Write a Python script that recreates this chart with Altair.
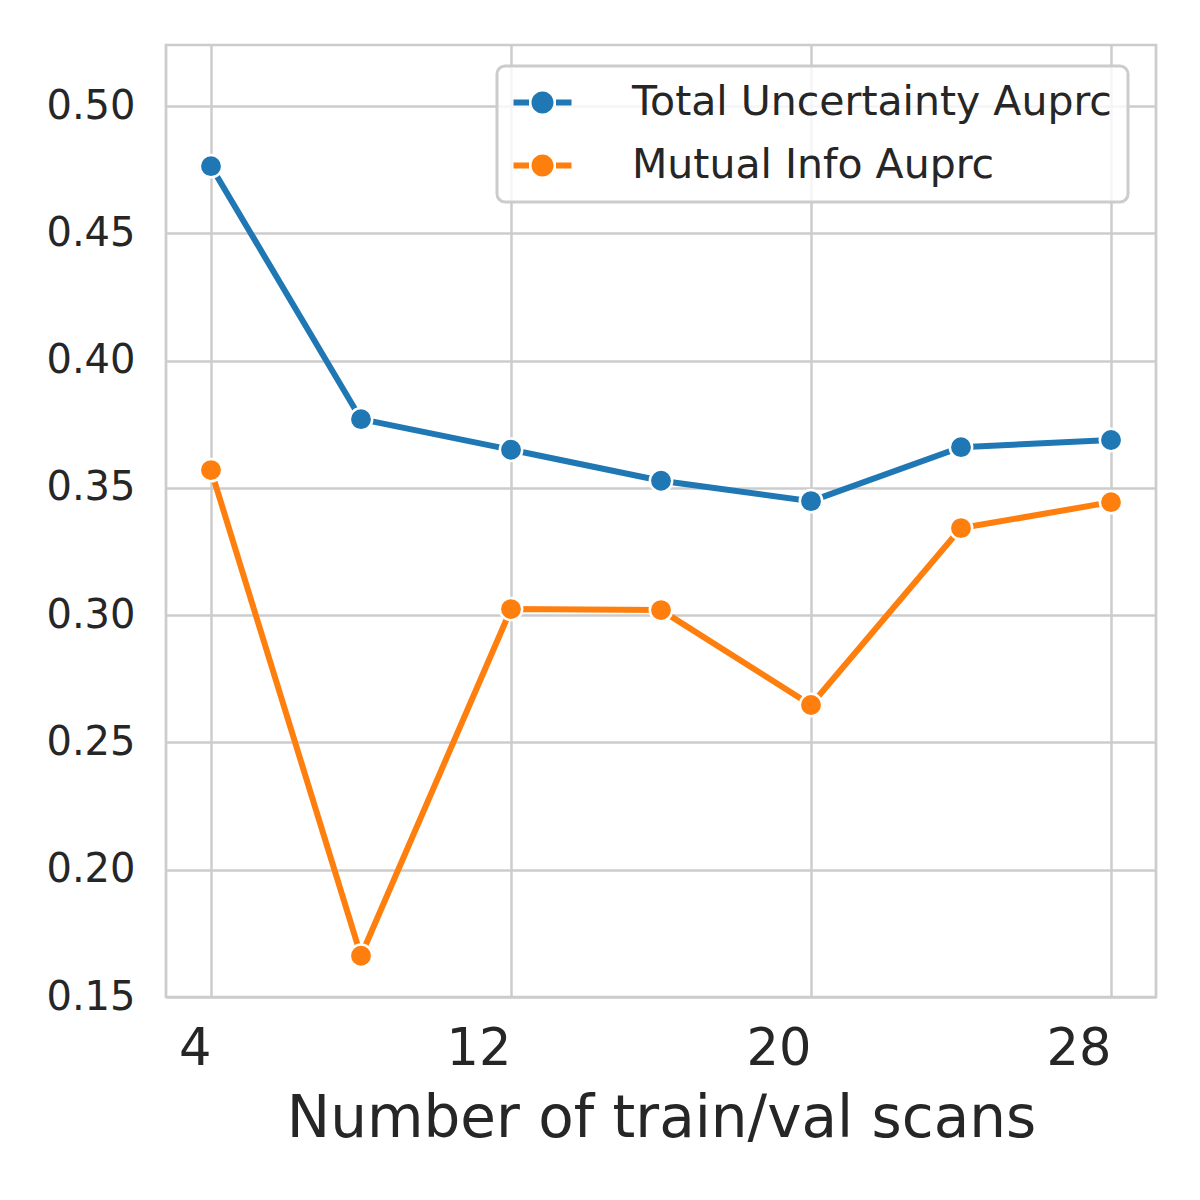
import altair as alt
import pandas as pd

# ---- data ----
x_scans = [4, 8, 12, 16, 20, 24, 28]
total_uncertainty = [0.4764, 0.3770, 0.3650, 0.3528, 0.3448, 0.3660, 0.3688]
mutual_info = [0.3570, 0.1662, 0.3024, 0.3020, 0.2647, 0.3342, 0.3444]
series_names = ["Total Uncertainty Auprc", "Mutual Info Auprc"]
series_colors = ["#1f77b4", "#ff7f0e"]
x_ticks = [4, 12, 20, 28]
y_ticks = [0.15, 0.20, 0.25, 0.30, 0.35, 0.40, 0.45, 0.50]

rows = []
for name, vals in zip(series_names, [total_uncertainty, mutual_info]):
    for xv, yv in zip(x_scans, vals):
        rows.append({"scans": xv, "value": yv, "series": name})
df = pd.DataFrame(rows)

FONT = "DejaVu Sans"
TXT = "#262626"
GRID = "#cccccc"

x_enc = alt.X(
    "scans:Q",
    scale=alt.Scale(domain=[2.8, 29.2], nice=False, zero=False),
    axis=alt.Axis(values=x_ticks, title="Number of train/val scans", labelFontSize=51,
                  labelPadding=27, labelAlign="right", titleFontSize=58, titlePadding=16,
                  format="d"),
)
y_enc = alt.Y(
    "value:Q",
    scale=alt.Scale(domain=[0.15, 0.524], nice=False, zero=False),
    axis=alt.Axis(values=y_ticks, title="", labelFontSize=40, labelPadding=31, format=".2f"),
)

legend_path = ("M-2.9,-0.3 L-1.35,-0.3 L-1.35,0.3 L-2.9,0.3 Z "
               "M1.35,-0.3 L2.9,-0.3 L2.9,0.3 L1.35,0.3 Z "
               "M-1.1,0 A1.1,1.1 0 1,0 1.1,0 A1.1,1.1 0 1,0 -1.1,0 Z")

color_scale = alt.Scale(domain=series_names, range=series_colors)

lines = alt.Chart(df).mark_line(strokeWidth=6).encode(
    x=x_enc, y=y_enc,
    color=alt.Color("series:N", scale=color_scale, sort=series_names, legend=None),
    detail="series:N",
)

points = alt.Chart(df).mark_point(
    filled=True, size=500, opacity=1, stroke="white", strokeWidth=2.5, shape="circle"
).encode(
    x=x_enc, y=y_enc,
    color=alt.Color(
        "series:N", scale=color_scale, sort=series_names,
        legend=alt.Legend(
            title="", orient="none", legendX=331, legendY=21,
            symbolType=legend_path, symbolSize=400, symbolStrokeWidth=0,
            symbolOpacity=1, symbolOffset=9, labelOffset=69, labelLimit=800,
            labelFontSize=41, labelFont=FONT, labelColor=TXT,
            padding=16, rowPadding=21, strokeColor=GRID, cornerRadius=8,
            fillColor="rgba(255,255,255,0.8)",
        ),
    ),
)

chart = alt.layer(lines, points).resolve_legend(color="independent").properties(
    width=990, height=952,
    autosize=alt.AutoSizeParams(type="none"),
    padding={"left": 158, "top": 37, "right": 36, "bottom": 195},
).configure_axis(
    grid=True, gridColor=GRID, gridWidth=2.5, domain=False, ticks=False, tickSize=0,
    labelFont=FONT, titleFont=FONT, labelColor=TXT, titleColor=TXT, titleFontWeight="normal",
).configure_view(
    stroke=GRID, strokeWidth=2.7,
).configure_legend(
    strokeWidth=3,
)

chart.save("out.html", embed_options={"renderer": "svg", "actions": False})
